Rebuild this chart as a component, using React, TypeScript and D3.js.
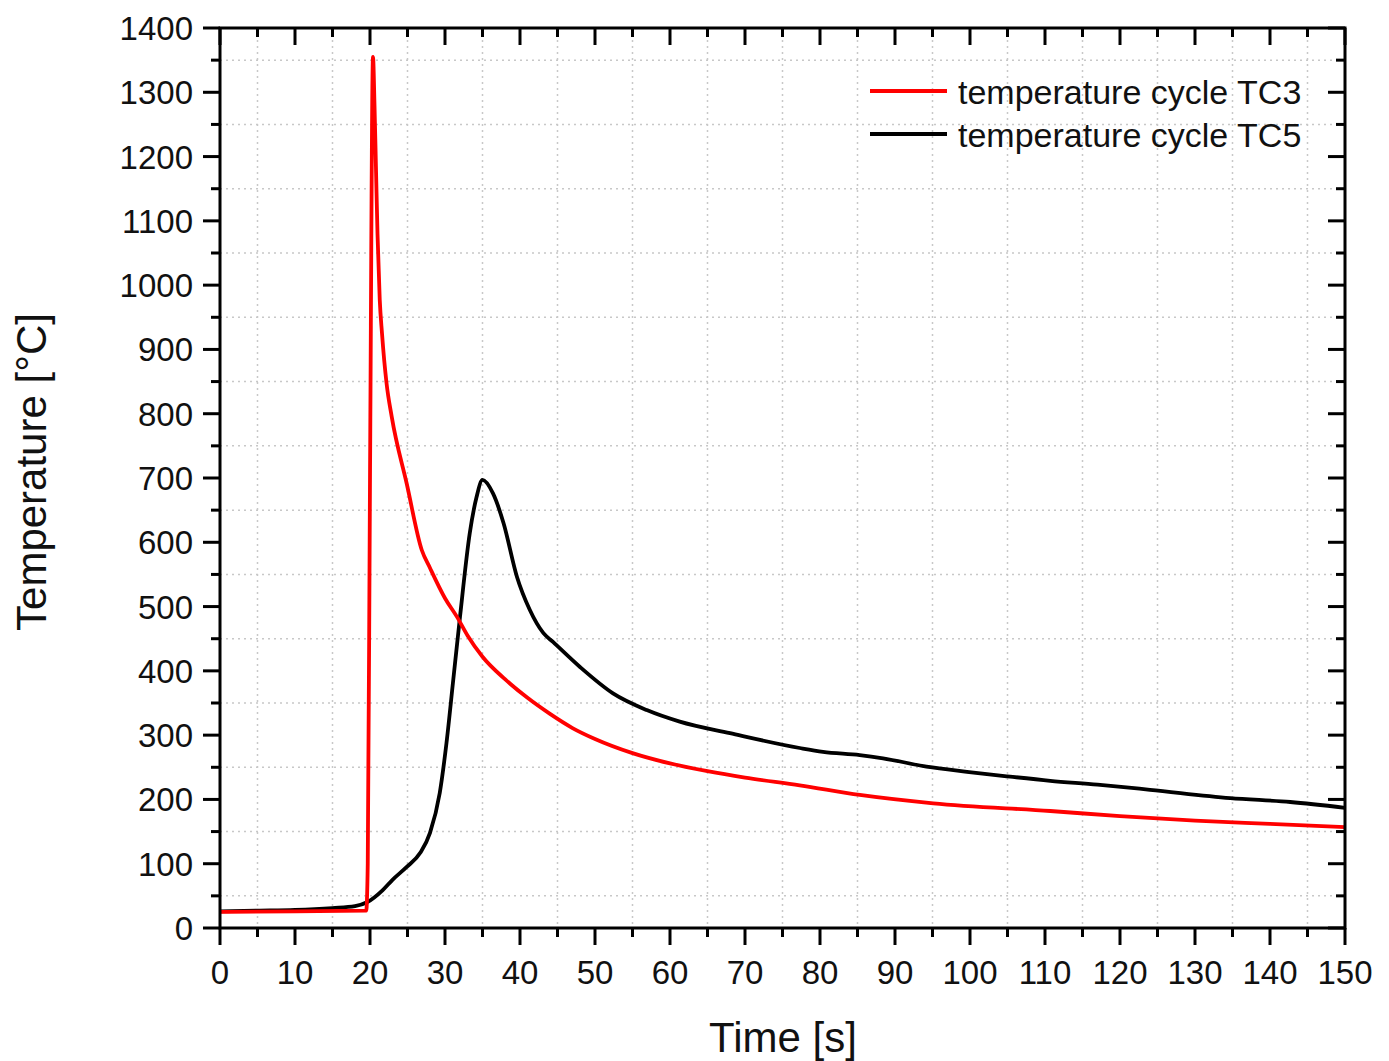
import React from "react";
import * as d3 from "d3";

const tc3Time = [0, 10, 19.5, 19.7, 20.0, 20.4, 20.6, 20.8, 21.0, 21.3, 21.6, 22.2, 22.9, 24.9, 26.9, 28, 30, 31.6, 33, 35, 38, 41, 44, 47, 50, 55, 60, 65, 70, 77.3, 85.3, 95.1, 110.7, 120, 130, 140, 150];
const tc3Temp = [25, 26, 27, 100, 700, 1355, 1280, 1180, 1080, 977, 925, 848, 795, 691, 588, 560, 513, 484, 455, 422, 387, 358, 333, 311, 294, 272, 256, 244, 234, 222, 207, 194, 182, 174, 167, 162, 157];

const tc5Time = [0, 5, 10, 15, 18, 19.6, 21.7, 23, 24.9, 26.7, 28, 29.3, 30.2, 31.1, 32, 33.3, 34.2, 35, 36.4, 37.8, 39.6, 41.3, 43.1, 44.4, 48, 52.4, 56.9, 61.3, 68, 77.3, 80.4, 85.3, 88.4, 94.2, 99.6, 104.9, 110.7, 117, 124, 134.7, 142.7, 150];
const tc5Temp = [26, 27, 28, 31, 34, 40, 59, 75, 95, 117, 148, 210, 288, 386, 484, 614, 670, 697, 676, 630, 546, 495, 459, 445, 406, 365, 339, 321, 303, 280, 274, 269, 264, 251, 243, 236, 229, 223, 215, 202, 196, 187];

const xMajorTicks = d3.range(0, 151, 10);
const xMinorTicks = d3.range(5, 150, 10);
const yMajorTicks = d3.range(0, 1401, 100);
const yMinorTicks = d3.range(50, 1400, 100);

const seriesNames = ["temperature cycle TC3", "temperature cycle TC5"];
const seriesColors = ["#ff0000", "#000000"];

export default function App() {
  const W = 1389, H = 1061;
  const L = 220, R = 1345, T = 28, B = 928;
  const x = d3.scaleLinear().domain([0, 150]).range([L, R]);
  const y = d3.scaleLinear().domain([0, 1400]).range([B, T]);
  const line = d3.line<[number, number]>().x(d => x(d[0])).y(d => y(d[1])).curve(d3.curveMonotoneX);
  const d3data = tc3Time.map((t, i) => [t, tc3Temp[i]] as [number, number]);
  const d5data = tc5Time.map((t, i) => [t, tc5Temp[i]] as [number, number]);
  const font = "'Liberation Sans', Arial, sans-serif";
  const grid = { stroke: "#c8c8c8", strokeWidth: 1.5, strokeDasharray: "2,4" };
  return (
    <svg width={W} height={H} style={{ position: "absolute", left: 0, top: 0, background: "#fff" }} fontFamily={font}>
      <rect x={0} y={0} width={W} height={H} fill="#fff" />
      {xMinorTicks.map(t => <line key={"gx" + t} x1={x(t)} x2={x(t)} y1={T} y2={B} {...grid} />)}
      {yMinorTicks.map(t => <line key={"gy" + t} y1={y(t)} y2={y(t)} x1={L} x2={R} {...grid} />)}
      <path d={line(d5data) || ""} fill="none" stroke={seriesColors[1]} strokeWidth={3.8} strokeLinejoin="round" />
      <path d={line(d3data) || ""} fill="none" stroke={seriesColors[0]} strokeWidth={3.8} strokeLinejoin="round" />
      {xMajorTicks.map(t => (
        <g key={"xt" + t}>
          <line x1={x(t)} x2={x(t)} y1={B} y2={B + 17} stroke="#000" strokeWidth={3} />
          <line x1={x(t)} x2={x(t)} y1={T} y2={T + 17} stroke="#000" strokeWidth={3} />
          <text x={x(t)} y={984} textAnchor="middle" fontSize={33} fill="#111">{t}</text>
        </g>
      ))}
      {xMinorTicks.map(t => (
        <g key={"xm" + t}>
          <line x1={x(t)} x2={x(t)} y1={B} y2={B + 9} stroke="#000" strokeWidth={3} />
          <line x1={x(t)} x2={x(t)} y1={T} y2={T + 9} stroke="#000" strokeWidth={3} />
        </g>
      ))}
      {yMajorTicks.map(t => (
        <g key={"yt" + t}>
          <line x1={L - 17} x2={L} y1={y(t)} y2={y(t)} stroke="#000" strokeWidth={3} />
          <line x1={R - 17} x2={R} y1={y(t)} y2={y(t)} stroke="#000" strokeWidth={3} />
          <text x={193} y={y(t) + 12} textAnchor="end" fontSize={33} fill="#111">{t}</text>
        </g>
      ))}
      {yMinorTicks.map(t => (
        <g key={"ym" + t}>
          <line x1={L - 9} x2={L} y1={y(t)} y2={y(t)} stroke="#000" strokeWidth={3} />
          <line x1={R - 9} x2={R} y1={y(t)} y2={y(t)} stroke="#000" strokeWidth={3} />
        </g>
      ))}
      <rect x={L} y={T} width={R - L} height={B - T} fill="none" stroke="#000" strokeWidth={3} />
      {seriesNames.map((n, i) => (
        <g key={n}>
          <line x1={870} x2={947} y1={91 + i * 43} y2={91 + i * 43} stroke={seriesColors[i]} strokeWidth={3.8} />
          <text x={958} y={104 + i * 43} fontSize={34} fill="#111">{n}</text>
        </g>
      ))}
      <text x={783} y={1052} textAnchor="middle" fontSize={42} fill="#111">Time [s]</text>
      <text transform={`translate(46,${472}) rotate(-90)`} textAnchor="middle" fontSize={42} fill="#111">Temperature [°C]</text>
    </svg>
  );
}
